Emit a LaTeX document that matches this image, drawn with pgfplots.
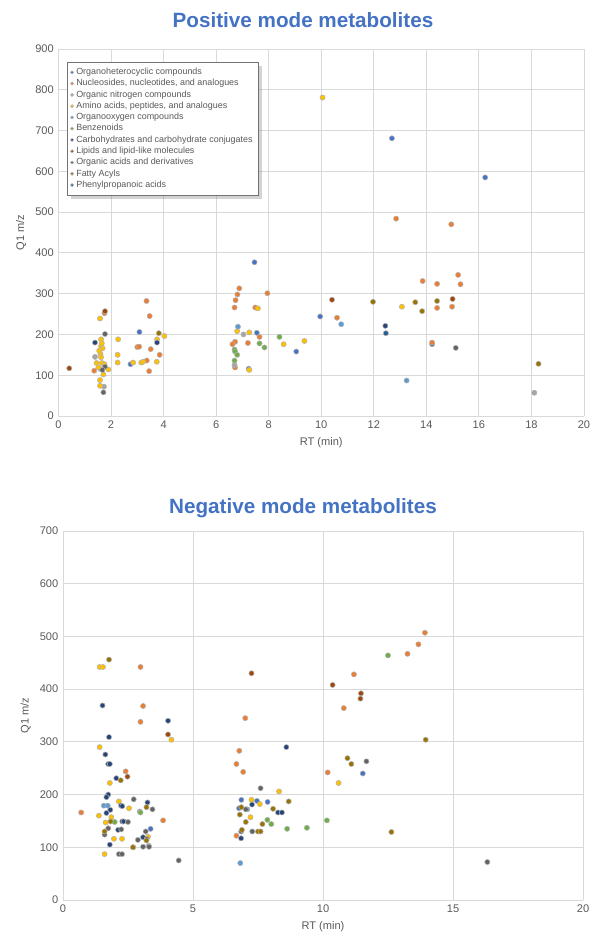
\documentclass[border=0pt]{standalone}
\usepackage{pgfplots}
\pgfplotsset{compat=1.18}
\usetikzlibrary{shadows}
\usepackage{fontspec}
\setmainfont{Liberation Sans}
\definecolor{gridc}{RGB}{217,217,217}
\definecolor{tickc}{RGB}{89,89,89}
\definecolor{titlec}{RGB}{68,114,196}
\definecolor{c1}{RGB}{68,114,196}
\definecolor{c2}{RGB}{237,125,49}
\definecolor{c3}{RGB}{165,165,165}
\definecolor{c4}{RGB}{255,192,0}
\definecolor{c5}{RGB}{91,155,213}
\definecolor{c6}{RGB}{112,173,71}
\definecolor{c7}{RGB}{38,68,120}
\definecolor{c8}{RGB}{158,72,14}
\definecolor{c9}{RGB}{99,99,99}
\definecolor{c10}{RGB}{153,115,0}
\definecolor{c11}{RGB}{37,94,145}
\pgfplotsset{
  exstyle/.style={
    scale only axis,
    axis line style={draw=none},
    grid=major,
    major grid style={draw=gridc, line width=0.6pt},
    tick style={draw=none},
    ticklabel style={font=\fontsize{8.3}{10}\selectfont, text=tickc},
    label style={font=\fontsize{8.3}{10}\selectfont, text=tickc},
    /pgf/number format/assume math mode=true,
    xlabel={RT (min)}, ylabel={Q1 m/z},
  },
  s1/.style={only marks, mark=*, mark size=1.95pt, mark options={fill=c1, draw=black!30, line width=0.4pt}},
  s2/.style={only marks, mark=*, mark size=1.95pt, mark options={fill=c2, draw=black!30, line width=0.4pt}},
  s3/.style={only marks, mark=*, mark size=1.95pt, mark options={fill=c3, draw=black!30, line width=0.4pt}},
  s4/.style={only marks, mark=*, mark size=1.95pt, mark options={fill=c4, draw=black!30, line width=0.4pt}},
  s5/.style={only marks, mark=*, mark size=1.95pt, mark options={fill=c5, draw=black!30, line width=0.4pt}},
  s6/.style={only marks, mark=*, mark size=1.95pt, mark options={fill=c6, draw=black!30, line width=0.4pt}},
  s7/.style={only marks, mark=*, mark size=1.95pt, mark options={fill=c7, draw=black!30, line width=0.4pt}},
  s8/.style={only marks, mark=*, mark size=1.95pt, mark options={fill=c8, draw=black!30, line width=0.4pt}},
  s9/.style={only marks, mark=*, mark size=1.95pt, mark options={fill=c9, draw=black!30, line width=0.4pt}},
  s10/.style={only marks, mark=*, mark size=1.95pt, mark options={fill=c10, draw=black!30, line width=0.4pt}},
  s11/.style={only marks, mark=*, mark size=1.95pt, mark options={fill=c11, draw=black!30, line width=0.4pt}},
}
\begin{document}
\begin{tikzpicture}
\useasboundingbox (0pt,0pt) rectangle (443.25pt,704.25pt);
\node[font=\fontsize{15.5}{18}\selectfont\bfseries, text=titlec] at (227.25pt,689.25pt) {Positive mode metabolites};
\node[font=\fontsize{15.5}{18}\selectfont\bfseries, text=titlec] at (227.25pt,323.25pt) {Negative mode metabolites};
% ---------------- Top: positive mode
\begin{axis}[exstyle,
  at={(43.875pt,392.25pt)}, anchor=south west,
  width=394.1pt, height=275.25pt,
  xmin=0, xmax=20, ymin=0, ymax=900,
  xtick={0,2,...,20}, ytick={0,100,...,900},
  legend cell align=left,
  legend style={at={(0.016,0.965)}, anchor=north west,
    font=\fontsize{6.7}{7.5}\selectfont, text=tickc,
    draw=black!55, fill=white, drop shadow={opacity=0.35},
    row sep=-1.9pt, inner sep=2.5pt},
  legend image post style={scale=0.6},
]
\addplot[s1] coordinates {(3.08,206) (2.74,127) (7.46,377) (9.96,244) (7.55,204) (9.05,158) (12.69,681) (16.24,585) (14.22,176) (7.24,116)};
\addlegendentry{Organoheterocyclic compounds}
\addplot[s2] coordinates {(1.36,111) (1.75,252) (3.35,282) (3.47,245) (3.0,169) (3.07,170) (3.51,164) (3.85,150) (3.45,110) (3.36,136) (6.88,313) (6.81,298) (6.74,284) (6.7,266) (7.95,301) (7.49,266) (7.65,194) (6.72,182) (6.62,176) (7.21,179) (6.72,119) (10.6,241) (12.85,484) (14.95,470) (15.21,346) (13.86,331) (14.41,324) (15.3,323) (14.41,265) (14.98,268) (14.22,180)};
\addlegendentry{Nucleosides, nucleotides, and analogues}
\addplot[s3] coordinates {(1.39,145) (1.73,72) (7.04,200) (6.7,125) (18.11,57) (1.6,115)};
\addlegendentry{Organic nitrogen compounds}
\addplot[s4] coordinates {(1.58,239) (1.62,188) (1.62,171) (1.68,166) (1.6,152) (1.62,144) (1.45,130) (1.65,130) (1.75,127) (1.52,119) (1.9,114) (1.71,102) (1.58,88) (1.58,74) (2.27,188) (2.25,150) (2.25,131) (2.84,131) (3.15,131) (3.22,133) (3.74,133) (3.75,188) (4.03,196) (6.8,208) (7.26,205) (7.59,264) (8.57,176) (9.36,184) (10.05,781) (13.07,268) (7.26,113) (1.65,178) (1.55,160)};
\addlegendentry{Amino acids, peptides, and analogues}
\addplot[s5] coordinates {(6.83,219) (10.76,225) (13.25,87)};
\addlegendentry{Organooxygen compounds}
\addplot[s6] coordinates {(6.7,163) (6.72,158) (6.8,150) (7.65,178) (7.84,168) (8.41,194) (6.7,136)};
\addlegendentry{Benzenoids}
\addplot[s7] coordinates {(1.39,180) (3.75,180) (12.44,221)};
\addlegendentry{Carbohydrates and carbohydrate conjugates}
\addplot[s8] coordinates {(0.41,117) (1.77,257) (10.41,285) (15.0,287)};
\addlegendentry{Lipids and lipid-like molecules}
\addplot[s9] coordinates {(1.77,201) (1.77,121) (1.71,58) (15.12,167) (1.67,113)};
\addlegendentry{Organic acids and derivatives}
\addplot[s10] coordinates {(3.82,203) (11.97,280) (14.41,282) (13.58,279) (13.84,257) (18.27,128)};
\addlegendentry{Fatty Acyls}
\addplot[s11] coordinates {(12.46,203)};
\addlegendentry{Phenylpropanoic acids}
\end{axis}
% ---------------- Bottom: negative mode
\begin{axis}[exstyle,
  at={(47.25pt,29.25pt)}, anchor=south west,
  width=390pt, height=276.75pt,
  xmin=0, xmax=20, ymin=0, ymax=700,
  xtick={0,5,...,20}, ytick={0,100,...,700},
]
\addplot[s1] coordinates {(6.86,190) (7.46,188) (7.87,186) (6.77,174) (11.53,240) (3.37,135)};
\addplot[s2] coordinates {(0.7,166) (2.98,442) (3.08,368) (2.98,338) (2.41,244) (3.85,151) (7.01,345) (6.78,283) (6.67,258) (6.93,243) (10.18,242) (10.8,364) (11.19,428) (13.92,507) (13.67,485) (13.25,467) (6.67,122)};
\addplot[s3] coordinates {(2.95,168) (3.3,103)};
\addplot[s4] coordinates {(1.41,442) (1.54,442) (4.17,304) (1.41,290) (1.8,222) (2.15,187) (2.54,174) (1.38,160) (1.86,157) (1.64,147) (1.96,116) (2.27,116) (1.6,87) (3.27,120) (10.6,222) (8.31,206) (7.25,190) (7.57,182) (7.21,157)};
\addplot[s5] coordinates {(1.57,179) (1.72,179) (7.09,172) (6.82,70)};
\addplot[s6] coordinates {(2.98,166) (1.99,148) (12.5,464) (7.86,152) (8.01,144) (10.15,151) (8.62,135) (9.38,137)};
\addplot[s7] coordinates {(1.52,369) (4.04,340) (1.77,309) (1.63,276) (1.74,258) (1.8,258) (2.05,231) (1.74,200) (1.67,195) (3.25,185) (2.23,179) (2.28,178) (1.82,171) (1.67,165) (2.28,149) (2.33,149) (2.12,133) (3.08,119) (1.8,105) (8.59,290) (7.27,181) (8.27,166) (8.42,166) (6.85,117)};
\addplot[s8] coordinates {(4.04,314) (2.48,234) (7.25,430) (10.37,408) (11.46,392) (11.44,382)};
\addplot[s9] coordinates {(2.72,191) (3.44,172) (2.5,148) (1.74,136) (2.24,134) (1.6,124) (2.88,114) (3.18,130) (3.08,101) (3.31,101) (2.15,87) (2.27,87) (4.45,75) (7.6,212) (11.67,263) (7.03,172) (7.28,130) (6.85,130) (16.32,72) (2.7,100) (3.22,116)};
\addplot[s10] coordinates {(1.77,456) (2.22,227) (3.21,176) (1.83,149) (1.6,130) (3.21,113) (2.69,100) (10.94,269) (11.09,258) (13.95,304) (12.63,129) (8.68,187) (6.86,176) (8.08,173) (6.8,162) (7.03,148) (7.67,144) (7.5,130) (7.6,130) (6.88,133)};
\end{axis}
\end{tikzpicture}
\end{document}
